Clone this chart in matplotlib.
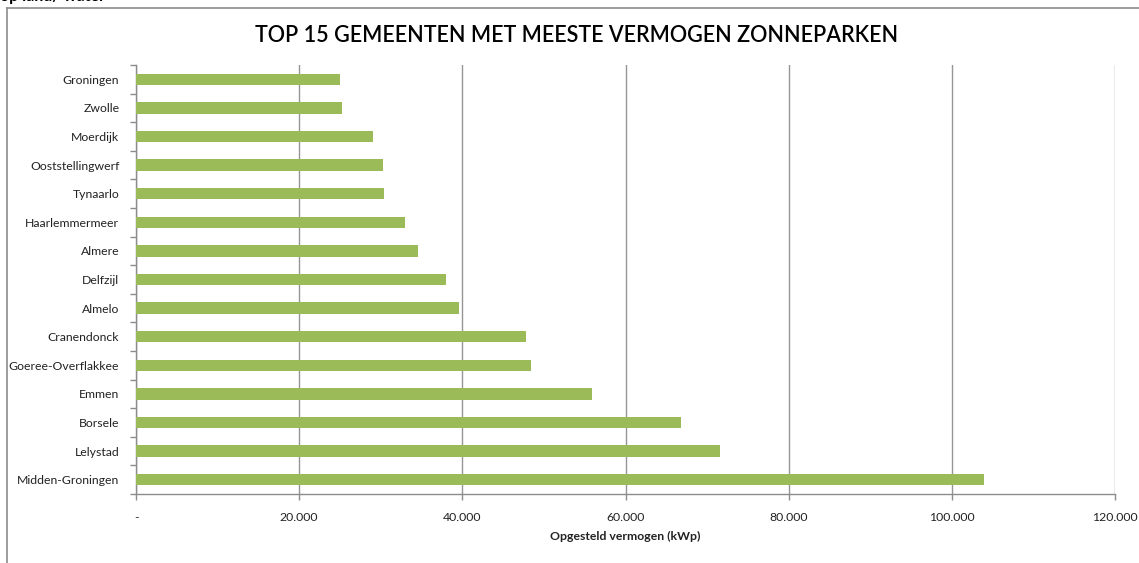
import matplotlib
matplotlib.use("Agg")
import matplotlib.pyplot as plt
from matplotlib.ticker import FixedLocator
from matplotlib.lines import Line2D

gemeenten = ["Groningen", "Zwolle", "Moerdijk", "Ooststellingwerf", "Tynaarlo",
             "Haarlemmermeer", "Almere", "Delfzijl", "Almelo", "Cranendonck",
             "Goeree-Overflakkee", "Emmen", "Borsele", "Lelystad", "Midden-Groningen"]
vermogen = [25000, 25250, 29050, 30300, 30400, 33000, 34600, 38000, 39600, 47800,
            48400, 55900, 66800, 71600, 103900]
x_ticks = [0, 20000, 40000, 60000, 80000, 100000, 120000]
x_tick_labels = ["-", "20.000", "40.000", "60.000", "80.000", "100.000", "120.000"]

FONT = ["Lato", "DejaVu Sans"]
plt.rcParams["font.family"] = FONT

W, H = 1139, 563
fig = plt.figure(figsize=(W / 100, H / 100), dpi=100)

# outer chart frame
fig.add_artist(Line2D([7 / W, 7 / W], [0, 1 - 8 / H], color="#8c8c8c", lw=1.2, transform=fig.transFigure))
fig.add_artist(Line2D([7 / W, 1.0], [1 - 8 / H, 1 - 8 / H], color="#8c8c8c", lw=1.2, transform=fig.transFigure))

# cropped heading at top
fig.text(0.0, 1 - 1 / H, "op land/ water", fontsize=11.5, fontweight="bold", ha="left", va="baseline",
         color="black")

left, right = 136, 1115
top, bottom = 65, 494
ax = fig.add_axes([left / W, 1 - bottom / H, (right - left) / W, (bottom - top) / H])

n = len(gemeenten)
ypos = list(range(n))
ax.barh(ypos, vermogen, height=0.4, color="#9BBB59", zorder=3)
ax.set_xlim(0, 120000)
ax.set_ylim(n - 0.5, -0.5)

ax.set_yticks(ypos)
ax.set_yticklabels(gemeenten, fontsize=8.8, color="#222222")
ax.tick_params(axis="y", length=0, pad=12)
ax.yaxis.set_minor_locator(FixedLocator([i - 0.5 for i in range(n + 1)]))
ax.tick_params(axis="y", which="minor", length=4, color="#8c8c8c", width=1)

ax.set_xticks(x_ticks)
ax.set_xticklabels(x_tick_labels, fontsize=8.8, color="#222222")
ax.tick_params(axis="x", length=4, color="#8c8c8c", width=1, pad=9)
ax.grid(axis="x", color="#959595", lw=1, zorder=0)

for s in ["top", "right"]:
    ax.spines[s].set_visible(False)
for s in ["left", "bottom"]:
    ax.spines[s].set_color("#8c8c8c")
    ax.spines[s].set_linewidth(1)

ax.set_xlabel("Opgesteld vermogen (kWp)", fontsize=8.8, fontweight="bold", labelpad=6, color="#222222")

fig.text(577 / W, 1 - 35 / H, "TOP 15 GEMEENTEN MET MEESTE VERMOGEN ZONNEPARKEN",
         fontsize=15.5, fontweight="semibold", ha="center", va="center", color="black")

fig.savefig("out.png", dpi=100)
